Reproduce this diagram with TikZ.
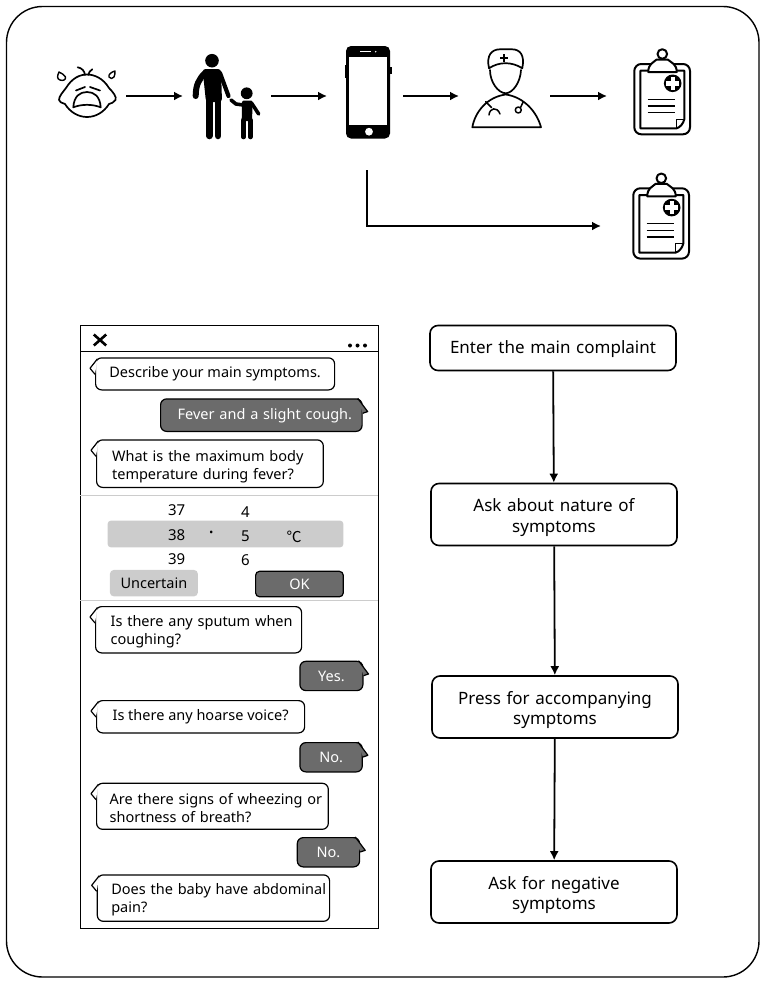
\documentclass[tikz,border=0pt]{standalone}
\usepackage{fontspec}
\usetikzlibrary{arrows.meta}
\setmainfont{Noto Sans}
\newfontfamily\cjkfont{Noto Sans CJK SC}
\definecolor{darkfill}{HTML}{6B6B6B}
\definecolor{lightfill}{HTML}{CCCCCC}
\tikzset{
    flowarrow/.style = {-{Latex[length=9pt,width=9pt]}, line width=1.8pt},
    flowbox/.style = {draw, line width=1.6pt, rounded corners=8pt, align=center,
        minimum width=246pt, font=\fontsize{17}{20.7}\selectfont, text width=215pt},
    textshift/.style = {execute at begin node={\rule{0pt}{#1pt}}},
    bubble/.style = {draw, line width=1.2pt, rounded corners=6pt, align=left, anchor=north west,
        font=\fontsize{14.5}{18}\selectfont, inner ysep=0pt},
    qbubble/.style = {bubble, fill=white},
    abubble/.style = {bubble, fill=darkfill, text=white, align=center, inner xsep=0pt},
    picknum/.style = {font=\fontsize{15}{18}\selectfont, inner sep=0pt},
    icon/.style = {line width=1.7pt, line cap=round, line join=round},
    clipboard/.pic = {
        \draw[icon, fill=white, line width=2pt, rounded corners=7pt] (-28.4,-36) rectangle (27.3,34.3);
        \draw[icon, line width=2pt] (-22.4,-29.3) -- (21.6,-29.3) -- (21.6,19.3)
            .. controls (20.5,24) and (17,27.5) .. (14,28.3) -- (-22.4,28.3) -- cycle;
        \draw[icon, line width=1.3pt] (14,28.3) -- (14,19.3) -- (21.6,19.3);
        \draw[icon, fill=white, line width=2pt] (-14.4,-28) .. controls (-14.4,-36) and (-10,-37) .. (-6,-40.5)
            -- (5,-40.5) .. controls (9,-37) and (14,-36) .. (14,-28) -- cycle;
        \draw[icon, fill=white, line width=2pt] (-0.4,-46) circle (4.8);
        \fill (10,-16.7) circle (8.8);
        \draw[white, line width=4.4pt] (3.6,-16.7) -- (16.4,-16.7) (10,-23.1) -- (10,-10.3);
        \foreach \liney in {-0.7,5.9,12.7}
            \draw[line width=1.4pt] (-15,\liney) -- (12.3,\liney);
    }
}
\begin{document}
\begin{tikzpicture}[x=1pt,y=-1pt]
    \useasboundingbox (0,0) rectangle (765,983);
    \draw[line width=1.4pt, rounded corners=36pt] (6.5,6.5) rectangle (759,977);

    % baby
    \draw[icon, fill=white] (66,88) .. controls (72,78) and (80,74.5) .. (87,74.5)
        .. controls (94,74.5) and (103,78) .. (109,88)
        .. controls (113,92) and (117,97) .. (115.5,100) .. controls (114,103) and (111,103) .. (109,104)
        .. controls (104,112) and (96,117) .. (87,117)
        .. controls (78,117) and (70,112) .. (65,104)
        .. controls (62,103) and (59,102) .. (59,100) .. controls (59,96) and (63,92) .. (66,88) -- cycle;
    \draw[icon] (77.7,67.3) .. controls (82,68) and (84.5,71) .. (85,75);
    \draw[icon] (92.3,69.3) .. controls (90,70.5) and (88.8,72.5) .. (88.3,75);
    \draw[icon] (76,90.5) -- (85,87) (90,87) -- (100,90.5);
    \draw[icon] (73.3,107.3) .. controls (74,96) and (80,92) .. (87,92)
        .. controls (94,92) and (100,96) .. (100.7,107.3)
        .. controls (92,104) and (82,104) .. cycle;
    \draw[icon, line width=1.4pt] (59,72) .. controls (57,76) and (57,79) .. (60,80)
        .. controls (63,81) and (66,80) .. (65.5,77) .. controls (64,75) and (62,73) .. cycle;
    \draw[icon, line width=1.4pt] (115,71) .. controls (111,72) and (108,75) .. (109,77)
        .. controls (110,79) and (113,79) .. (114,77) .. controls (115,75) and (115,73) .. cycle;

    % parent and child
    \fill (212,60.7) circle (6.8);
    \fill[rounded corners=3pt] (202.5,69) -- (221,69) -- (222,102) -- (206,102) -- cycle;
    \draw[line width=6.5pt, line cap=round] (209.3,100) -- (209.3,136) (218,100) -- (218,136);
    \draw[line width=6pt, line cap=round, line join=round] (205,73) .. controls (199,79) and (195.7,85) .. (195.7,96);
    \draw[line width=4.2pt, line cap=round] (220,73) -- (228.5,96);
    \fill (246.7,93.3) circle (5.9);
    \fill[rounded corners=2pt] (242,100.5) -- (252.7,100.5) -- (252,121) -- (241.7,121) -- cycle;
    \draw[line width=4.6pt, line cap=round] (243.6,120) -- (243.6,137) (250.4,120) -- (250.4,137);
    \draw[line width=3.6pt, line cap=round] (243,105) -- (236,104) -- (231,100) (251.5,103) -- (258.7,114);

    % phone
    \fill[rounded corners=5pt] (346,46) rectangle (390,138.5);
    \fill (344.7,65) rectangle (347,78);
    \fill (389,67) rectangle (391.5,74);
    \fill[white] (349,56.7) rectangle (387,125);
    \draw[white, line width=1.3pt] (360,51.7) -- (371,51.7);
    \fill[white] (375.7,51.7) circle (0.8);
    \fill[white] (369,131.7) circle (3.9);

    % doctor
    \draw[icon] (489,68.3) .. controls (486,55) and (492,49.3) .. (500,49.3)
        -- (512,49.3) .. controls (520,49.3) and (525,55) .. (522.3,68.3)
        .. controls (512,61.5) and (499,61.5) .. cycle;
    \draw[icon] (490,70) .. controls (490,82) and (498,93) .. (505.7,93.3)
        .. controls (513,93) and (520.5,82) .. (521,70);
    \draw[icon, line width=2pt, line cap=butt] (504.3,54.3) -- (504.3,62.3) (500.3,58.3) -- (508.3,58.3);
    \draw[icon] (472.3,127.3) .. controls (475,112) and (487,97) .. (505.7,94.5)
        .. controls (524,97) and (537,112) .. (541,127.3) -- cycle;
    \draw[icon, line width=1.5pt] (485.7,101.7) -- (491.5,107.5);
    \draw[icon, line width=1.5pt] (489,115) .. controls (489.5,108) and (497,106) .. (500,114);
    \draw[icon, line width=1.5pt] (523.3,101.7) -- (520.5,107.5);
    \draw[icon, line width=1.5pt] (518.3,110) circle (3);

    \pic at (662.7,100) {clipboard};
    \pic at (661.7,224.3) {clipboard};

    \coordinate (babyout) at (126,96);
    \coordinate (parentin) at (183,96);
    \coordinate (parentout) at (271,96);
    \coordinate (phonein) at (327,96);
    \coordinate (phoneout) at (403,96);
    \coordinate (doctorin) at (459,96);
    \coordinate (doctorout) at (550,96);
    \coordinate (recordin) at (607,96);
    \coordinate (phonedown) at (367,170);
    \coordinate (recordtwo) at (601,226);
    \foreach \from/\to in {babyout/parentin, parentout/phonein, phoneout/doctorin, doctorout/recordin}
        \draw[flowarrow] (\from) -- (\to);
    \draw[flowarrow] (phonedown) |- (recordtwo);

    % chat window
    \node[draw, line width=1.3pt, anchor=north west, minimum width=297.7pt, minimum height=602.5pt, inner sep=0pt] (chat) at (80,325) {};
    \coordinate (chattop) at (80,351.7);
    \draw[line width=1pt] (chattop) -- (chattop -| chat.east);
    \draw[line width=2.6pt] (93.8,334.5) -- (106.2,345.5) (106.2,334.5) -- (93.8,345.5);
    \foreach \dotx in {350,357.5,365}
        \fill (\dotx,345.5) circle (2);
    \foreach \liney in {495.3,600.7}
        \draw[lightfill, line width=1pt] (80,\liney) -- (378,\liney);

    \node[qbubble, minimum width=239pt, minimum height=32pt, inner xsep=12pt] (q1) at (95,357.3) {Describe your main symptoms.};
    \node[abubble, textshift=13, minimum height=32.5pt, text width=201.5pt] (a1) at (160,398.3) {\hspace*{7pt}Fever and a slight cough.};
    \node[qbubble, textshift=17, minimum height=47.5pt, text width=195.7pt, inner xsep=15.5pt] (q2) at (96,439.3) {What is the maximum body\\temperature during fever?};

    \fill[lightfill, rounded corners=3pt] (107.7,520.7) rectangle (343.3,547.3);
    \foreach \num/\posx/\posy in {37/176.7/510, 38/176.7/535, 39/176.7/559.5, 4/245.3/512, 5/245.3/536.5, 6/245.3/560.5}
        \node[picknum] (num\num) at (\posx,\posy) {\num};
    \node[picknum, font=\fontsize{20}{20}\selectfont] (point) at (211.3,535.5) {·};
    \node[picknum] (unit) at (294,536.7) {\cjkfont ℃};
    \node[bubble, draw=none, fill=lightfill, align=center, minimum width=88pt, minimum height=26.5pt, inner xsep=0pt, rounded corners=4pt] (uncertain) at (109.3,569.3) {Uncertain};
    \node[abubble, minimum width=87.7pt, minimum height=25.5pt, rounded corners=4pt] (ok) at (255,570.7) {OK};

    \node[qbubble, textshift=15, minimum height=46.3pt, text width=176pt, inner xsep=15pt] (q3) at (95,606) {\mbox{Is there any sputum when}\\coughing?};
    \node[abubble, minimum width=63pt, minimum height=29.3pt] (a3) at (299.3,660.7) {Yes.};
    \node[qbubble, minimum width=208pt, minimum height=32.3pt, inner xsep=11.3pt] (q4) at (96,700) {Is there any hoarse voice?};
    \node[abubble, minimum width=62.4pt, minimum height=29.3pt] (a4) at (299.3,742) {No.};
    \node[qbubble, textshift=15, minimum height=46pt, text width=205.7pt, inner xsep=13pt] (q5) at (96,782.7) {\mbox{Are there signs of wheezing or}\\shortness of breath?};
    \node[abubble, minimum width=62.3pt, minimum height=29.3pt] (a5) at (296.7,837) {No.};
    \node[qbubble, textshift=15, minimum height=46.4pt, text width=204.3pt, inner xsep=14pt] (q6) at (96.7,874.3) {\mbox{Does the baby have abdominal}\\pain?};

    \foreach \qname in {q1,q2,q3,q4,q5,q6}
        \draw[fill=white, line width=1.2pt, line join=round] (\qname.north west) ++(2.5,1.5) -- ++(-7.5,9.5) -- ++(5,6);
    \foreach \aname in {a1,a3,a4,a5}
        \draw[fill=darkfill, line width=1.2pt, line join=round] (\aname.north east) ++(-5,0) -- ++(10,13.3) -- ++(-5,1.7);

    % flow
    \node[flowbox, textshift=15, minimum height=45pt] (enter) at (553,348) {Enter the main complaint};
    \node[flowbox, textshift=19, minimum height=62pt] (nature) at (554,514.5) {Ask about nature of\\symptoms};
    \node[flowbox, textshift=19, minimum height=62pt] (press) at (555,707) {Press for accompanying\\symptoms};
    \node[flowbox, textshift=19, minimum height=62pt] (negative) at (554,892) {Ask for negative\\symptoms};
    \foreach \from/\to in {enter/nature, nature/press, press/negative}
        \draw[flowarrow] (\from) -- (\to);
\end{tikzpicture}
\end{document}
